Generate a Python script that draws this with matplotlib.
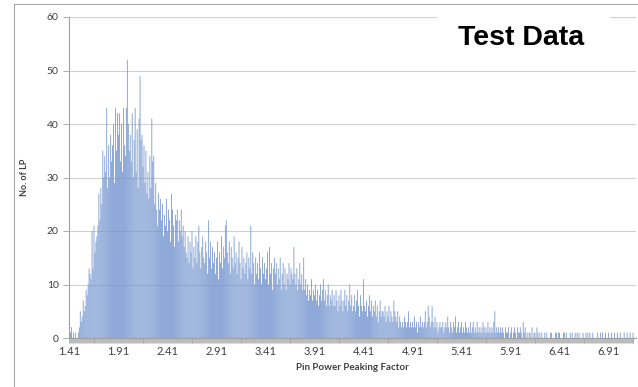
import numpy as np
import matplotlib.pyplot as plt
from matplotlib.patches import Rectangle
from matplotlib.lines import Line2D

# counts per 0.01 bin, starting at 1.41 (one row = 10 bins)
counts = [
    2, 1, 2, 0, 1, 0, 1, 0, 0, 1,
    2, 5, 3, 4, 7, 5, 6, 9, 8, 10,
    13, 12, 11, 20, 13, 21, 16, 18, 19, 21,
    27, 22, 28, 25, 35, 30, 34, 31, 43, 28,
    36, 30, 38, 33, 36, 40, 29, 43, 35, 42,
    38, 42, 33, 40, 31, 43, 36, 34, 43, 52,
    40, 35, 38, 33, 42, 30, 37, 43, 31, 39,
    28, 41, 49, 37, 38, 32, 36, 29, 35, 27,
    31, 26, 34, 28, 41, 33, 34, 25, 29, 24,
    21, 27, 24, 26, 22, 25, 19, 23, 21, 26,
    20, 24, 22, 18, 27, 24, 21, 17, 23, 22,
    24, 18, 22, 20, 24, 19, 21, 17, 20, 16,
    15, 19, 14, 18, 16, 20, 13, 17, 15, 19,
    14, 18, 21, 16, 13, 17, 19, 15, 14, 18,
    16, 12, 22, 15, 18, 13, 17, 14, 16, 12,
    15, 18, 11, 16, 14, 19, 13, 17, 15, 21,
    22, 16, 14, 18, 12, 17, 15, 13, 19, 14,
    16, 12, 15, 18, 14, 11, 17, 13, 15, 12,
    14, 16, 11, 15, 13, 21, 12, 16, 14, 10,
    15, 12, 14, 11, 16, 13, 10, 15, 12, 14,
    11, 13, 16, 10, 17, 12, 14, 9, 13, 15,
    12, 14, 10, 13, 11, 15, 9, 12, 14, 10,
    13, 9, 12, 11, 14, 10, 13, 12, 11, 17,
    12, 10, 13, 9, 11, 14, 10, 12, 9, 15,
    9, 11, 8, 10, 7, 9, 8, 11, 7, 9,
    8, 10, 7, 9, 6, 8, 10, 7, 9, 11,
    7, 9, 6, 8, 10, 6, 8, 7, 9, 6,
    8, 6, 9, 7, 5, 8, 6, 9, 7, 5,
    7, 9, 6, 8, 5, 7, 10, 6, 8, 5,
    6, 8, 5, 7, 9, 6, 4, 8, 6, 5,
    11, 6, 5, 7, 4, 6, 8, 5, 7, 4,
    6, 5, 7, 4, 6, 3, 5, 7, 4, 5,
    5, 4, 6, 3, 5, 4, 6, 3, 5, 4,
    3, 7, 5, 4, 3, 5, 2, 4, 3, 2,
    3, 2, 4, 3, 2, 3, 5, 2, 3, 2,
    3, 2, 4, 2, 3, 1, 3, 2, 4, 2,
    3, 2, 3, 5, 2, 3, 6, 4, 2, 3,
    6, 3, 2, 4, 2, 3, 1, 2, 3, 2,
    2, 3, 1, 2, 3, 2, 4, 2, 1, 3,
    2, 1, 3, 2, 4, 1, 2, 3, 1, 2,
    3, 1, 2, 1, 3, 2, 1, 2, 1, 3,
    1, 2, 3, 1, 2, 1, 3, 1, 2, 1,
    2, 1, 3, 2, 1, 2, 1, 3, 1, 2,
    1, 2, 1, 3, 5, 1, 2, 1, 2, 1,
    2, 1, 2, 1, 0, 2, 1, 1, 2, 0,
    1, 2, 0, 1, 2, 1, 0, 2, 1, 1,
    2, 1, 0, 3, 1, 2, 0, 1, 0, 1,
    1, 0, 2, 0, 1, 1, 0, 2, 1, 0,
    1, 0, 1, 0, 0, 1, 0, 1, 0, 0,
    0, 1, 1, 0, 0, 0, 1, 1, 0, 1,
    1, 0, 0, 0, 1, 1, 0, 1, 0, 0,
    0, 1, 0, 1, 0, 0, 1, 0, 1, 0,
    1, 0, 0, 0, 1, 0, 0, 1, 0, 1,
    0, 1, 0, 0, 1, 0, 0, 0, 0, 1,
    0, 0, 1, 0, 1, 0, 0, 1, 0, 0,
    1, 0, 0, 1, 0, 0, 1, 0, 0, 1,
    0, 0, 1, 0, 0, 0, 1, 0, 0, 1,
    0, 0, 1, 0, 0, 1,
]
start = 1.41
step = 0.01
tick_labels = ["1.41", "1.91", "2.41", "2.91", "3.41", "3.91",
               "4.41", "4.91", "5.41", "5.91", "6.41", "6.91"]
y_ticks = [0, 10, 20, 30, 40, 50, 60]

x = start + step * np.arange(len(counts))

fig = plt.figure(figsize=(6.38, 3.87), dpi=100)
ax = fig.add_axes([69/638, 1-338/387, (636-69)/638, (338-17)/387])

bars = ax.bar(x, counts, width=0.008, color="#7193CE", linewidth=0, zorder=2)
for b in bars:
    b.set_snap(False)

ax.set_xlim(start - 0.005, start - 0.005 + (636-69)/98.0)
ax.set_ylim(0, 60)
ax.set_yticks(y_ticks)
ax.set_xticks([float(t) for t in tick_labels])
ax.set_xticklabels(tick_labels)
ax.set_xticks(start - 0.005 + step*np.arange(len(counts)+1), minor=True)
ax.tick_params(axis="x", which="major", length=0, labelsize=8,
               labelcolor="#404040", pad=6)
ax.tick_params(axis="x", which="minor", length=3.5, width=0.5, color="#A0A0A0")
ax.tick_params(axis="y", length=4, width=0.6, color="#A0A0A0",
               labelsize=7.5, labelcolor="#404040")
for lab in ax.get_xticklabels() + ax.get_yticklabels():
    lab.set_family("Lato")

ax.yaxis.grid(True, color="#D0D0D0", linewidth=0.8, zorder=0)
ax.set_axisbelow(True)
for s in ["top", "right"]:
    ax.spines[s].set_visible(False)
ax.spines["left"].set_color("#A0A0A0")
ax.spines["bottom"].set_color("#A0A0A0")
ax.spines["left"].set_linewidth(0.8)
ax.spines["bottom"].set_linewidth(0.8)

ax.set_ylabel("No. of LP", fontsize=6.5, fontweight="bold", family="Lato",
              color="#404040", labelpad=13)
ax.set_xlabel("Pin Power Peaking Factor", fontsize=7, fontweight="bold",
              family="Lato", color="#404040", labelpad=4)

# white box behind the title text, covering the top gridline
fig.add_artist(Rectangle((437/638, 1-70/387), (610-437)/638, 60/387,
                         transform=fig.transFigure, facecolor="white",
                         edgecolor="none", zorder=5))
fig.text(521/638, 1-38/387, "Test Data", fontsize=20.5, fontweight="bold",
         family="Liberation Sans", ha="center", va="center", zorder=6)

# outer chart-area border
fig.add_artist(Line2D([14/638, 14/638], [0, 1-4/387], transform=fig.transFigure,
                      color="#A8A8A8", linewidth=0.8))
fig.add_artist(Line2D([14/638, 1], [1-4/387, 1-4/387], transform=fig.transFigure,
                      color="#A8A8A8", linewidth=0.8))

fig.savefig("out.png", dpi=100)
